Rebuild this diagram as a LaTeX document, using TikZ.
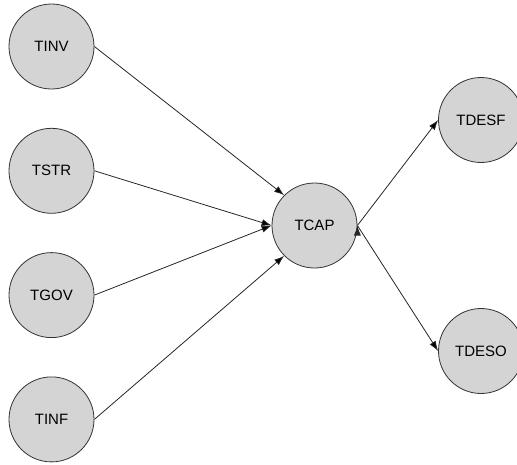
\documentclass[tikz,border=0pt]{standalone}
\usepackage{fontspec}
\setmainfont{Liberation Sans}
\usepackage{tikz}
\usetikzlibrary{arrows.meta,positioning}
\definecolor{nodegrey}{RGB}{212,212,212}
\tikzset{
  %Define standard arrow tip
  >={Latex[length=10pt,width=7pt]},
  %Define style for circles
  var/.style={
    circle,
    draw=black!80, line width=0.8pt,
    fill=nodegrey,
    minimum size=85pt,
    inner sep=0pt,
    font=\fontsize{15}{18}\selectfont},
  % Define arrow style
  pil/.style={
    ->,
    draw=black!85,
    line width=0.8pt}
}

\begin{document}
\begin{tikzpicture}[x=1pt,y=-1pt,node distance=38.5pt]
      \useasboundingbox (0,0) rectangle (517,464);
      \node[var] (tinv) at (51.5,46.5) {TINV};
      \node[var,below=of tinv] (tstr) {TSTR};
      \node[var,below=of tstr] (tgov) {TGOV};
      \node[var,below=of tgov] (tinf) {TINF};
      \node[var] (tcap) at (314.5,225.5) {TCAP};
      \node[var] (tdesf) at (481,120) {TDESF};
      \node[var] (tdeso) at (481,351) {TDESO};
      \path[pil]
      (tinv.east) edge (tcap.north west)
      (tstr.east) edge (tcap.west)
      (tgov.east) edge (tcap.west)
      (tinf.east) edge (tcap.south west)
      (tcap.east) edge (tdesf.west)
      (tcap.east) edge (tdeso.west)
      ;
    \end{tikzpicture}
\end{document}
